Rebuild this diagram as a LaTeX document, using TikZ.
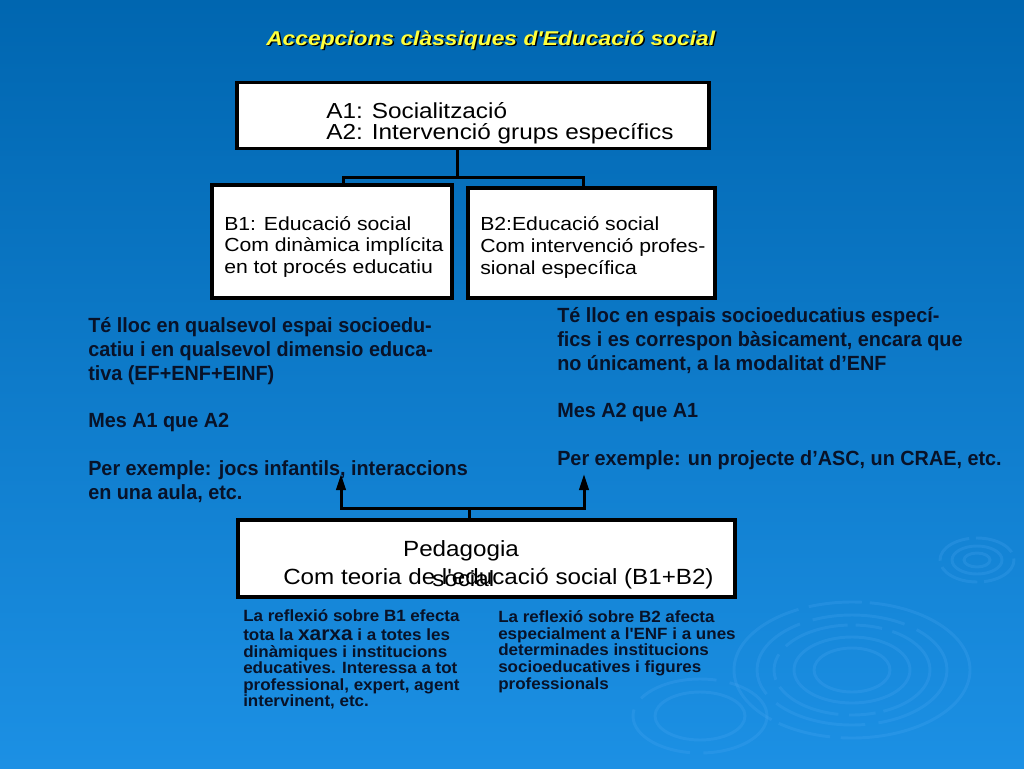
\documentclass[tikz,border=0pt]{standalone}
\usepackage{fontspec}
\setmainfont{Liberation Sans}
\newfontfamily\titlefont[FakeStretch=1.14]{Liberation Sans}
\newfontfamily\boxfont[FakeStretch=1.12]{Liberation Sans}
\newfontfamily\pedfont[FakeStretch=1.1]{Liberation Sans}
\newfontfamily\midfont[FakeStretch=0.965]{Liberation Sans}
\newfontfamily\notefont[FakeStretch=1.045]{Liberation Sans}
\usetikzlibrary{arrows.meta}
\definecolor{bgtop}{RGB}{0,102,176}
\definecolor{bgmid}{RGB}{6,116,195}
\definecolor{bgbot}{RGB}{28,144,228}
\definecolor{ripplecol}{RGB}{80,170,245}
\definecolor{titleyellow}{RGB}{255,255,60}
\definecolor{inkcol}{RGB}{8,18,40}

\begin{document}
\begin{tikzpicture}[x=0.75pt,y=-0.75pt,
  box/.style={draw=black,fill=white,line width=2.5pt,inner sep=0pt},
  conn/.style={draw=black,line width=2.25pt},
  arr/.style={conn,-{Triangle[length=12pt,width=7pt]}},
  ripple/.style={draw=ripplecol,line width=2.2pt,opacity=0.22},
  titletext/.style={anchor=base west,inner sep=0pt,font=\titlefont\bfseries\itshape\fontsize{15}{15}\selectfont},
  boxtext/.style={anchor=base west,align=left,inner sep=0pt,text=black},
  midtext/.style={anchor=base west,align=left,inner sep=0pt,text=inkcol,font=\midfont\bfseries\fontsize{15.4}{17.8}\selectfont},
  notetext/.style={anchor=base west,align=left,inner sep=0pt,text=inkcol,font=\notefont\bfseries\fontsize{12.2}{12.4}\selectfont},
  pedtext/.style={anchor=base west,inner sep=0pt,text=black,font=\pedfont\fontsize{16.5}{16.5}\selectfont}
]

\useasboundingbox (0,0) rectangle (1024,768);
\shade[top color=bgtop,middle color=bgmid,bottom color=bgbot] (0,0) rectangle (1024,768);

\draw[ripple,dash pattern=on 120pt off 8pt on 40pt off 6pt] (852,670) ellipse [x radius=118,y radius=68];
\draw[ripple,dash pattern=on 70pt off 10pt] (852,670) ellipse [x radius=95,y radius=55];
\draw[ripple,dash pattern=on 50pt off 6pt on 20pt off 8pt] (852,670) ellipse [x radius=78,y radius=45];
\draw[ripple] (852,670) ellipse [x radius=58,y radius=33];
\draw[ripple] (852,670) ellipse [x radius=38,y radius=22];
\draw[ripple,dash pattern=on 30pt off 5pt] (977,560) ellipse [x radius=37,y radius=22];
\draw[ripple] (977,560) ellipse [x radius=25,y radius=14];
\draw[ripple] (977,560) ellipse [x radius=13,y radius=7];
\draw[ripple,dash pattern=on 60pt off 10pt] (700,716) ellipse [x radius=67,y radius=37];
\draw[ripple] (700,716) ellipse [x radius=45,y radius=24];

\node[titletext,text=black] (titleshadow) at (267.5,46.5) {Accepcions clàssiques d'Educació social};
\node[titletext,text=titleyellow] (title) at (266,45) {Accepcions clàssiques d'Educació social};

\node[box,minimum width=354pt,minimum height=49.5pt] (A) at (473,115.5) {};
\node[box,minimum width=180pt,minimum height=84.75pt] (B1) at (332,241.5) {};
\node[box,minimum width=185.25pt,minimum height=82.5pt] (B2) at (591.5,243) {};
\node[box,minimum width=372.75pt,minimum height=57.75pt] (P) at (486.5,558.5) {};

\node[boxtext,font=\boxfont\fontsize{16.3}{15.2}\selectfont] (atext) at (326,139)
  {A1: Socialització\\A2: Intervenció grups específics};
\node[boxtext,font=\boxfont\fontsize{14.2}{16.1}\selectfont] (b1text) at (224,273)
  {B1: Educació social\\Com dinàmica implícita\\en tot procés educatiu};
\node[boxtext,font=\boxfont\fontsize{14.2}{16.3}\selectfont] (b2text) at (480,274)
  {B2:Educació social\\Com intervenció profes-\\sional específica};

\coordinate (jAB) at (457,177);
\coordinate (b1top) at (343,177);
\coordinate (b2top) at (583,177);
\draw[conn] (A.south -| jAB) -- (jAB);
\draw[conn] (B1.north -| b1top) |- (b2top) -- (B2.north -| b2top);

\node[midtext] (leftnote) at (88,499)
  {Té lloc en qualsevol espai socioedu-\\catiu i en qualsevol dimensio educa-\\tiva (EF+ENF+EINF)\\[17.8pt]
   Mes A1 que A2\\[17.8pt]
   Per exemple: jocs infantils, interaccions\\en una aula, etc.};
\node[midtext] (rightnote) at (557,465)
  {Té lloc en espais socioeducatius especí-\\fics i es correspon bàsicament, encara que\\no únicament, a la modalitat d’ENF\\[17.8pt]
   Mes A2 que A1\\[17.8pt]
   Per exemple: un projecte d’ASC, un CRAE, etc.};

\coordinate (jP) at (469,508);
\coordinate (tipL) at (341,474);
\coordinate (tipR) at (584,474);
\draw[conn] (P.north -| jP) -- (jP);
\draw[arr] (jP) -| (tipL);
\draw[arr] (jP) -| (tipR);

\node[pedtext,anchor=base] (pedtitle) at (461,556.7) {Pedagogia};
\node[pedtext] (pedsub) at (283,584) {Com teoria de l'educació social (B1+B2)};
\node[pedtext] (pedsocial) at (432,586) {social};

\node[notetext] (b1note) at (243,706.7)
  {La reflexió sobre B1 efecta\\[1.9pt]tota la {\fontsize{15}{12.4}\selectfont xarxa} i a totes les\\dinàmiques i institucions\\educatives. Interessa a tot\\professional, expert, agent\\intervinent, etc.};
\node[notetext] (b2note) at (498,689)
  {La reflexió sobre B2 afecta\\especialment a l'ENF i a unes\\determinades institucions\\socioeducatives i figures\\professionals};

\end{tikzpicture}
\end{document}
